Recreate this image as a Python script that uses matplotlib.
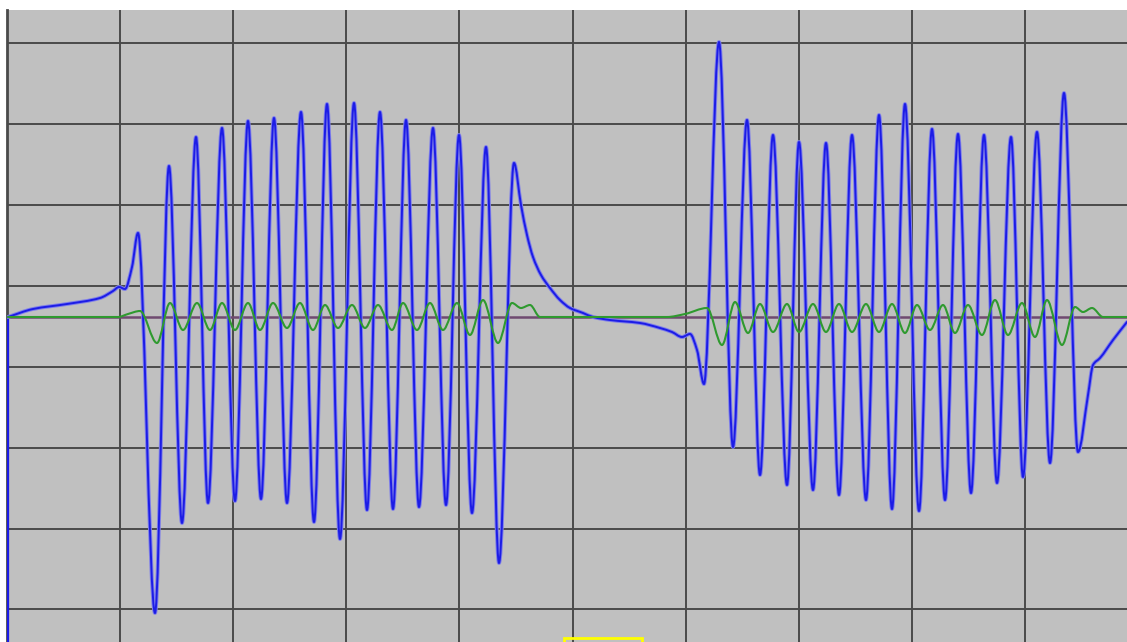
import numpy as np
import matplotlib
matplotlib.use("Agg")
import matplotlib.pyplot as plt
from matplotlib.path import Path
from matplotlib.patches import PathPatch, Rectangle

BG = "#c0c0c0"; GRID = "#4a4a4a"; BLUE = "#1c1ce6"; BLUE_HALO = "#7e7eea"
GREEN = "#2f9a2f"; BASE = "#6f4a70"

# trace samples (t = sample index, a = amplitude counts, 0 = baseline)
blue_t = [1, 26, 60, 93, 106, 112, 118, 125, 131, 148, 162, 175, 189, 201, 215, 228,
          241, 254, 267, 280, 294, 307, 320, 333, 347, 360, 373, 386, 399, 412, 426,
          439, 452, 465, 479, 492, 507, 514, 520, 526, 534, 543, 553, 563, 576, 586,
          603, 633, 653, 665, 675, 683, 690, 697, 712, 726, 740, 753, 766, 780, 792,
          806, 819, 832, 845, 859, 872, 885, 898, 912, 925, 938, 951, 964, 977, 990,
          1004, 1016, 1030, 1043, 1057, 1071, 1081, 1086, 1093, 1106, 1120]
blue_a = [0, 8, 13, 19, 26, 30, 28, 50, 84, -296, 151, -206, 180, -186, 189, -184,
          196, -182, 199, -186, 205, -205, 213, -222, 214, -193, 205, -192, 197, -190, 189,
          -188, 182, -196, 170, -246, 154, 112, 82, 60, 42, 29, 17, 9, 4, 0,
          -3, -6, -11, -15, -20, -17, -33, -67, 275, -130, 197, -158, 182, -168, 175,
          -173, 174, -178, 182, -183, 202, -192, 213, -194, 188, -183, 183, -176, 182, -166,
          180, -160, 185, -146, 224, -135, -78, -48, -41, -23, -5]

green_t = [1, 111, 121, 133, 150, 163, 176, 190, 203, 215, 228, 241, 253, 266, 280,
           293, 306, 318, 331, 345, 358, 371, 385, 396, 410, 423, 436, 450, 463, 476,
           491, 505, 514, 523, 533, 660, 678, 700, 715, 728, 741, 753, 766, 780, 792,
           806, 819, 832, 845, 859, 872, 885, 898, 910, 923, 936, 948, 961, 975, 988,
           1001, 1015, 1028, 1040, 1055, 1068, 1076, 1085, 1096, 1120]
green_a = [0, 0, 3, 6, -26, 14, -13, 14, -13, 14, -13, 14, -13, 14, -11,
           14, -13, 12, -11, 12, -11, 12, -13, 14, -13, 14, -13, 14, -18, 17,
           -26, 14, 9, 12, 0, 0, 3, 9, -28, 15, -16, 13, -15, 13, -15,
           13, -15, 13, -15, 13, -15, 13, -16, 12, -13, 12, -16, 12, -18, 17,
           -18, 14, -20, 17, -28, 10, 5, 9, 0, 0]


def smooth_path(x, y):
    # monotone cubic through the samples, drawn as bezier segments
    x = np.asarray(x, float); y = np.asarray(y, float)
    h = np.diff(x); d = np.diff(y) / h
    m = np.zeros_like(y)
    for k in range(1, len(x) - 1):
        if d[k - 1] * d[k] > 0:
            w1 = 2 * h[k] + h[k - 1]; w2 = h[k] + 2 * h[k - 1]
            m[k] = (w1 + w2) / (w1 / d[k - 1] + w2 / d[k])
    m[0] = d[0]; m[-1] = d[-1]
    verts = [(x[0], y[0])]; codes = [Path.MOVETO]
    for k in range(len(x) - 1):
        verts += [(x[k] + h[k] / 3, y[k] + m[k] * h[k] / 3),
                  (x[k + 1] - h[k] / 3, y[k + 1] - m[k + 1] * h[k] / 3),
                  (x[k + 1], y[k + 1])]
        codes += [Path.CURVE4] * 3
    return Path(verts, codes)


fig = plt.figure(figsize=(11.27, 6.42), dpi=100)
ax = fig.add_axes([7 / 1127, 0, 1120 / 1127, 632 / 642])
ax.set_facecolor(BG)
ax.set_xlim(0, 1120); ax.set_ylim(-325, 307)

ax.set_xticks(np.arange(1, 10) * 113.1)
ax.set_yticks(31 + 80.86 * np.arange(-4, 4))
ax.grid(True, color=GRID, lw=1.4)
ax.set_axisbelow(True)
ax.tick_params(length=0, labelbottom=False, labelleft=False)
for s in ["top", "right", "bottom"]:
    ax.spines[s].set_visible(False)
ax.spines["left"].set_color("#4a4a4a"); ax.spines["left"].set_linewidth(2)

# baseline
ax.axhline(0, color=BASE, lw=1.8, zorder=2)

# blue trace (starts from below the screen)
ax.vlines(blue_t[0], -330, blue_a[0], color=BLUE, lw=1.6, zorder=3)
bp = smooth_path(blue_t, blue_a)
ax.add_patch(PathPatch(bp, fill=False, edgecolor=BLUE_HALO, lw=2.8, zorder=3,
                       joinstyle="round", capstyle="round"))
ax.add_patch(PathPatch(bp, fill=False, edgecolor=BLUE, lw=1.4, zorder=4,
                       joinstyle="round", capstyle="round"))

# green trace
gp = smooth_path(green_t, green_a)
ax.add_patch(PathPatch(gp, fill=False, edgecolor=GREEN, lw=1.5, zorder=5,
                       joinstyle="round", capstyle="round"))

# yellow marker box at the bottom edge
ax.add_patch(Rectangle((557, -345), 78, 24, fill=False, edgecolor="#ffff00",
                       lw=2, zorder=6, clip_on=True))

fig.savefig("out.png", dpi=100, facecolor="white")
